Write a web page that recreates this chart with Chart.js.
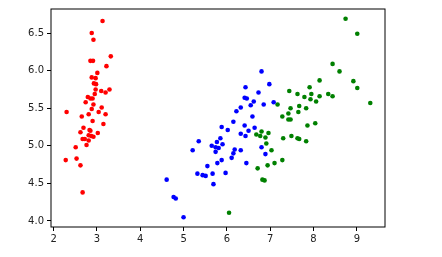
<!DOCTYPE html>
<html>
<head>
<meta charset="utf-8">
<script src="https://cdn.jsdelivr.net/npm/chart.js@4/dist/chart.umd.min.js"></script>
<style>
  html, body { margin: 0; padding: 0; background: #fff; }
  #wrap { width: 442px; height: 257px; }
</style>
</head>
<body>
<div id="wrap"><canvas id="chart" width="442" height="257"></canvas></div>
<script>
// [x, y] per cluster
const redPoints = [
  [3.13, 6.66], [2.88, 6.50], [2.92, 6.41], [2.85, 6.13], [2.91, 6.13], [3.32, 6.19],
  [3.22, 6.06], [3.01, 5.97], [2.88, 5.91], [2.97, 5.90], [2.93, 5.83], [2.98, 5.82],
  [2.97, 5.75], [3.29, 5.75], [3.10, 5.73], [3.20, 5.71], [2.95, 5.69], [2.79, 5.65],
  [2.85, 5.63], [2.90, 5.63], [2.74, 5.58], [2.92, 5.55], [3.11, 5.51], [2.88, 5.49],
  [2.30, 5.45], [3.04, 5.45], [3.20, 5.42], [2.81, 5.42], [2.65, 5.39], [2.90, 5.33],
  [3.15, 5.29], [2.69, 5.24], [2.83, 5.21], [2.85, 5.20], [2.62, 5.18], [3.02, 5.17],
  [2.81, 5.14], [2.87, 5.13], [2.92, 5.12], [2.67, 5.09], [2.72, 5.09], [2.81, 5.07],
  [2.76, 5.01], [2.51, 4.98], [2.53, 4.83], [2.28, 4.81], [2.62, 4.74], [2.67, 4.38]
];
const bluePoints = [
  [6.80, 5.99], [6.98, 5.82], [6.43, 5.78], [6.73, 5.71], [6.41, 5.64], [6.46, 5.63],
  [6.62, 5.59], [7.08, 5.58], [6.55, 5.54], [6.85, 5.55], [6.32, 5.51], [6.22, 5.46],
  [6.59, 5.39], [6.15, 5.32], [6.41, 5.27], [5.88, 5.25], [6.02, 5.21], [6.50, 5.20],
  [6.64, 5.24], [6.32, 5.16], [6.43, 5.13], [5.85, 5.10], [5.35, 5.06], [5.77, 5.05],
  [5.90, 5.02], [5.65, 5.00], [5.74, 4.98], [5.81, 4.97], [6.18, 4.95], [5.21, 4.94],
  [6.32, 4.94], [6.80, 4.98], [5.74, 4.92], [6.15, 4.90], [6.89, 4.89], [6.11, 4.84],
  [5.88, 4.81], [5.78, 4.77], [6.45, 4.77], [5.55, 4.73], [5.32, 4.63], [5.67, 4.63],
  [5.97, 4.64], [5.44, 4.61], [5.51, 4.60], [5.69, 4.49], [4.61, 4.55], [4.77, 4.32],
  [4.82, 4.30], [5.00, 4.05]
];
const greenPoints = [
  [8.74, 6.69], [9.01, 6.49], [8.44, 6.09], [8.60, 5.99], [8.92, 5.86], [9.01, 5.77],
  [8.14, 5.87], [7.91, 5.78], [7.44, 5.73], [7.63, 5.69], [7.95, 5.69], [8.34, 5.69],
  [8.44, 5.66], [8.14, 5.66], [7.79, 5.65], [7.93, 5.62], [8.06, 5.59], [9.31, 5.57],
  [7.17, 5.55], [7.67, 5.53], [7.47, 5.50], [7.83, 5.50], [7.65, 5.45], [7.42, 5.43],
  [7.28, 5.39], [7.42, 5.35], [7.47, 5.35], [7.86, 5.27], [8.04, 5.30], [6.80, 5.19],
  [6.96, 5.17], [6.68, 5.15], [6.77, 5.13], [6.89, 5.11], [7.30, 5.10], [7.49, 5.13],
  [7.63, 5.10], [7.67, 5.09], [7.83, 5.06], [6.91, 5.03], [7.03, 4.94], [7.28, 4.81],
  [7.10, 4.77], [6.94, 4.74], [6.71, 4.70], [6.82, 4.55], [6.87, 4.54], [6.05, 4.11]
];
const xTicks = [2, 3, 4, 5, 6, 7, 8, 9];
const yTicks = [4.0, 4.5, 5.0, 5.5, 6.0, 6.5];

const toXY = pts => pts.map(p => ({ x: p[0], y: p[1] }));

// matplotlib-style box around the plot area
const frame = {
  id: 'frame',
  afterDraw: (chart) => {
    const { ctx, chartArea: a } = chart;
    ctx.save();
    ctx.strokeStyle = '#000';
    ctx.lineWidth = 1;
    ctx.strokeRect(a.left, a.top, a.right - a.left, a.bottom - a.top);
    ctx.restore();
  }
};

function dots(data, color) {
  return {
    data: toXY(data),
    backgroundColor: color,
    borderWidth: 0,
    pointRadius: 2.3,
    pointHoverRadius: 2.3
  };
}

const tickFont = { family: 'DejaVu Sans', size: 10 };

new Chart(document.getElementById('chart'), {
  type: 'scatter',
  data: {
    datasets: [
      dots(redPoints, '#ff0000'),
      dots(bluePoints, '#0000ff'),
      dots(greenPoints, '#008000')
    ]
  },
  options: {
    responsive: false,
    animation: false,
    layout: { padding: { top: 9, right: 57, left: 0, bottom: 0 } },
    plugins: { legend: { display: false }, tooltip: { enabled: false } },
    scales: {
      x: {
        type: 'linear',
        min: 1.94,
        max: 9.65,
        afterBuildTicks: s => { s.ticks = xTicks.map(v => ({ value: v })); },
        afterFit: s => { s.height = 30; },
        grid: { drawOnChartArea: false, drawTicks: true, tickLength: 4, color: '#000' },
        border: { display: false },
        ticks: { color: '#222', font: tickFont, padding: 2, maxRotation: 0, callback: v => v }
      },
      y: {
        type: 'linear',
        min: 3.92,
        max: 6.82,
        afterBuildTicks: s => { s.ticks = yTicks.map(v => ({ value: v })); },
        afterFit: s => { s.width = 51; },
        grid: { drawOnChartArea: false, drawTicks: true, tickLength: 4, color: '#000' },
        border: { display: false },
        ticks: { color: '#222', font: tickFont, padding: 3, callback: v => v.toFixed(1) }
      }
    }
  },
  plugins: [frame]
});
</script>
</body>
</html>
